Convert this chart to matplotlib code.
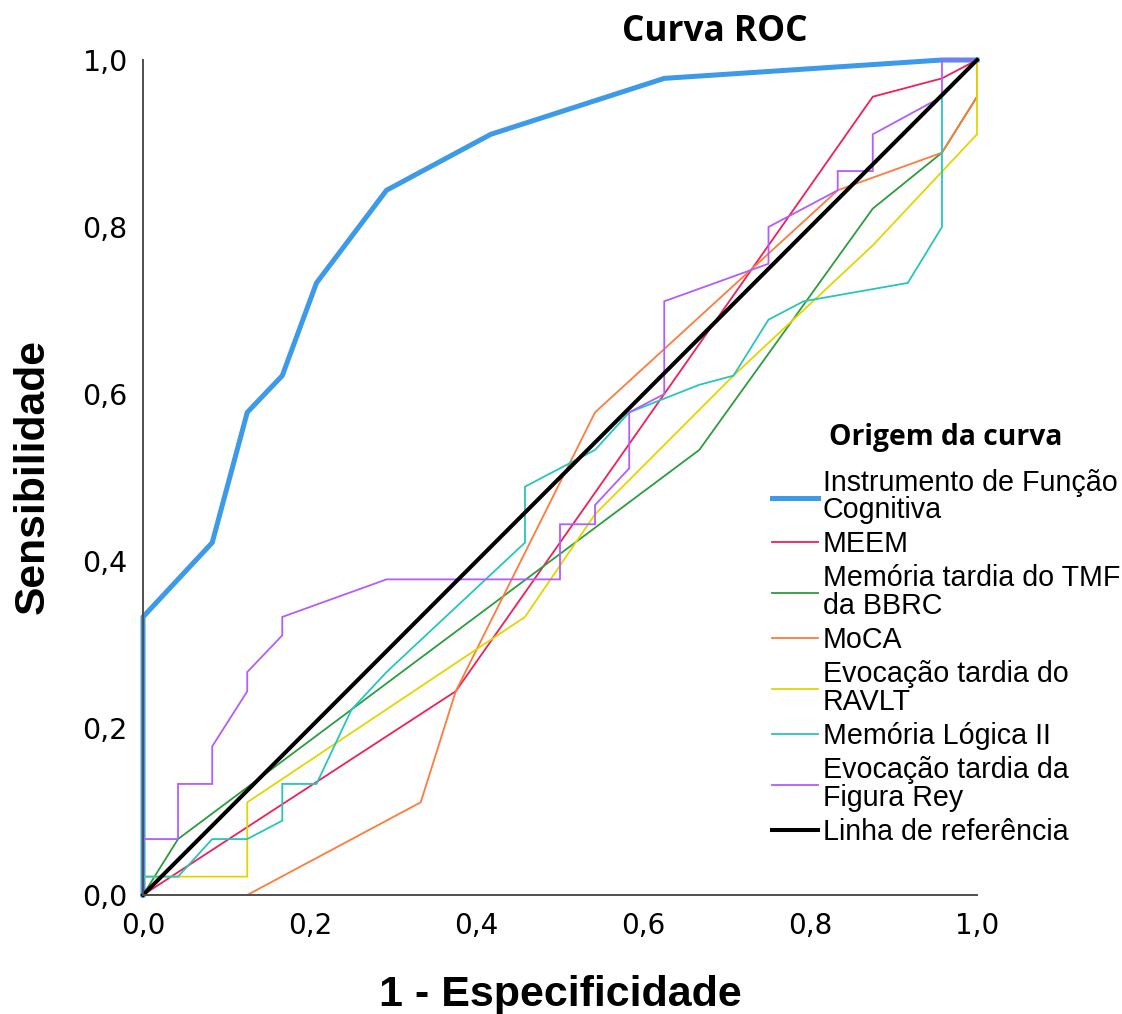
import matplotlib
matplotlib.use("Agg")
import matplotlib.pyplot as plt
from matplotlib.lines import Line2D

# ---------------- data ----------------
labels = ["Instrumento de Função\nCognitiva", "MEEM", "Memória tardia do TMF\nda BBRC", "MoCA",
          "Evocação tardia do\nRAVLT", "Memória Lógica II", "Evocação tardia da\nFigura Rey",
          "Linha de referência"]

blue_x = [0, 0, 0.083, 0.125, 0.167, 0.208, 0.292, 0.417, 0.625, 0.958, 1.0]
blue_y = [0, 0.333, 0.422, 0.578, 0.622, 0.733, 0.844, 0.911, 0.978, 1.0, 1.0]

red_x = [0, 0.375, 0.875, 0.958, 1.0]
red_y = [0, 0.244, 0.956, 0.978, 1.0]

green_x = [0, 0.042, 0.667, 0.875, 0.958, 1.0, 1.0]
green_y = [0, 0.067, 0.533, 0.822, 0.889, 0.956, 1.0]

orange_x = [0, 0.125, 0.333, 0.375, 0.542, 0.833, 0.958, 1.0, 1.0]
orange_y = [0, 0, 0.111, 0.244, 0.578, 0.844, 0.889, 0.956, 1.0]

yellow_x = [0, 0, 0.125, 0.125, 0.458, 0.542, 0.708, 0.875, 1.0, 1.0]
yellow_y = [0, 0.022, 0.022, 0.111, 0.333, 0.456, 0.622, 0.778, 0.911, 1.0]

teal_x = [0, 0, 0.042, 0.083, 0.125, 0.167, 0.167, 0.208, 0.250, 0.292, 0.458, 0.458,
          0.500, 0.542, 0.583, 0.667, 0.708, 0.750, 0.792, 0.917, 0.958, 0.958, 1.0]
teal_y = [0, 0.022, 0.022, 0.067, 0.067, 0.089, 0.133, 0.133, 0.222, 0.267, 0.422, 0.489,
          0.511, 0.533, 0.578, 0.611, 0.622, 0.689, 0.711, 0.733, 0.800, 0.956, 1.0]

purple_x = [0, 0, 0.042, 0.042, 0.083, 0.083, 0.125, 0.125, 0.167, 0.167, 0.292, 0.5, 0.5,
            0.542, 0.542, 0.583, 0.583, 0.625, 0.625, 0.75, 0.75, 0.833, 0.833, 0.875, 0.875,
            0.958, 0.958, 1.0]
purple_y = [0, 0.067, 0.067, 0.133, 0.133, 0.178, 0.244, 0.267, 0.311, 0.333, 0.378, 0.378, 0.444,
            0.444, 0.467, 0.511, 0.578, 0.6, 0.711, 0.756, 0.8, 0.844, 0.867, 0.867, 0.911,
            0.956, 1.0, 1.0]

ref_x = [0, 1]
ref_y = [0, 1]

tick_vals = [0.0, 0.2, 0.4, 0.6, 0.8, 1.0]
tick_labels = ["0,0", "0,2", "0,4", "0,6", "0,8", "1,0"]

series = [
    (blue_x, blue_y, "#3c9ae8", 3.6),
    (red_x, red_y, "#ef1f57", 1.3),
    (green_x, green_y, "#2a9d3d", 1.3),
    (orange_x, orange_y, "#ff7b3b", 1.3),
    (yellow_x, yellow_y, "#e6d400", 1.3),
    (teal_x, teal_y, "#26c6bc", 1.3),
    (purple_x, purple_y, "#b35cff", 1.3),
    (ref_x, ref_y, "#000000", 2.9),
]

# ---------------- figure ----------------
W, H = 1122, 1014
fig = plt.figure(figsize=(W / 100, H / 100), dpi=100)
ax = fig.add_axes([143 / W, 1 - 895 / H, (977 - 143) / W, (895 - 60) / H])

handles = []
for (xs, ys, c, lw), lab in zip(series, labels):
    ax.plot(xs, ys, color=c, lw=lw, solid_joinstyle="miter", clip_on=False)
    handles.append(Line2D([0], [0], color=c, lw=lw))

ax.set_xlim(0, 1)
ax.set_ylim(0, 1)
for s in ["top", "right"]:
    ax.spines[s].set_visible(False)
for s in ["left", "bottom"]:
    ax.spines[s].set_color("#505050")
    ax.spines[s].set_linewidth(1.4)

ax.set_xticks(tick_vals)
ax.set_xticklabels(tick_labels, fontsize=20, family="DejaVu Sans")
ax.set_yticks(tick_vals)
ax.set_yticklabels(tick_labels, fontsize=20.5, family="DejaVu Sans")
ax.tick_params(axis="both", length=0)
ax.tick_params(axis="x", pad=12)
ax.tick_params(axis="y", pad=11)

fig.text(715 / W, 1 - 32 / H, "Curva ROC", ha="center", va="center",
         fontsize=25.4, fontweight="bold", family="Open Sans")
fig.text(560 / W, 1 - 995 / H, "1 - Especificidade", ha="center", va="center",
         fontsize=31, fontweight="bold", family="Liberation Sans")
fig.text(33 / W, 1 - 476 / H, "Sensibilidade", ha="center", va="center", rotation=90,
         fontsize=30.7, fontweight="bold", family="Liberation Sans")

leg = fig.legend(handles, labels, loc="upper left", bbox_to_anchor=(772 / W, 1 - 423 / H),
                 frameon=False, borderpad=0, borderaxespad=0, handlelength=1.6,
                 handletextpad=0.18, labelspacing=0.21,
                 prop={"family": "Liberation Sans", "size": 20.6},
                 title="Origem da curva",
                 title_fontproperties={"family": "Open Sans", "weight": "bold", "size": 20.3})
for t in leg.get_texts():
    t.set_linespacing(0.99)
leg._legend_box.sep = 12

fig.savefig("out.png", dpi=100, facecolor="white")
